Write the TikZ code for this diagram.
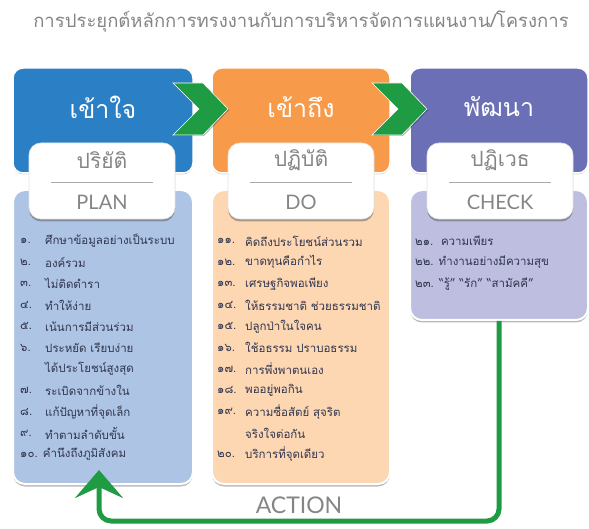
\documentclass[tikz,border=0pt]{standalone}
\usepackage{fontspec}
\setmainfont{Loma}[Script=Thai]
\newfontfamily\latinf{Lato}
\usetikzlibrary{shadows,arrows.meta,calc}
\definecolor{tblue}{HTML}{2B80C5}
\definecolor{torange}{HTML}{F79A4A}
\definecolor{tpurple}{HTML}{6A6FB6}
\definecolor{lblue}{HTML}{AEC4E4}
\definecolor{lorange}{HTML}{FDD6B2}
\definecolor{lpurple}{HTML}{BDBEE0}
\definecolor{tgreen}{HTML}{1E9B43}
\definecolor{tgray}{HTML}{858585}
\definecolor{ltext}{HTML}{30364F}
\begin{document}
\begin{tikzpicture}[x=1pt,y=-1pt,
  topbox/.style={draw=white,line width=1.5pt,rounded corners=10pt,minimum width=180pt,minimum height=105pt,
    drop shadow={shadow xshift=0pt,shadow yshift=-1.5pt,opacity=0.35,fill=gray}},
  lightbox/.style={draw=white,line width=2pt,rounded corners=12pt,minimum width=180pt,
    drop shadow={shadow xshift=0pt,shadow yshift=-2.5pt,opacity=0.45,fill=gray!80!black}},
  lblbox/.style={fill=white,draw=gray!20,line width=0.6pt,rounded corners=12pt,minimum width=146pt,minimum height=76pt,
    drop shadow={shadow xshift=0pt,shadow yshift=-2.5pt,opacity=0.5,fill=gray!70!black}},
  toptitle/.style={text=white,font=\fontsize{25}{28}\selectfont},
  lblth/.style={text=tgray,font=\fontsize{21}{24}\selectfont},
  lblen/.style={text=tgray,font=\latinf\fontsize{20}{24}\selectfont},
  chev/.style={fill=tgreen,draw=white,line width=0.6pt,
    drop shadow={shadow xshift=1pt,shadow yshift=-1pt,opacity=0.3,fill=black}},
  item/.style={anchor=west,inner sep=0pt,text=ltext,font=\fontsize{11.5}{13}\selectfont},
  ret/.style={draw=tgreen,line width=5pt,rounded corners=12pt,
    -{Stealth[length=28pt,width=48pt,inset=11pt]}},
]
\useasboundingbox (0,0) rectangle (589,529);
% title
\node[text=tgray,font=\fontsize{18.5}{21}\selectfont] (title) at (301,22) {การประยุกต์หลักการทรงงานกับการบริหารจัดการแผนงาน/โครงการ};
% top boxes
\node[topbox,fill=tblue,minimum width=180pt] (tb1) at (103,120.5) {};
\node[topbox,fill=torange,minimum width=178pt] (tb2) at (301,120.5) {};
\node[topbox,fill=tpurple,minimum width=178pt] (tb3) at (499,120.5) {};
\node[toptitle] (tt1) at (103,107) {เข้าใจ};
\node[toptitle] (tt2) at (301,107) {เข้าถึง};
\node[toptitle] (tt3) at (499,107) {พัฒนา};
% chevrons
\filldraw[chev] (173,83) -- (203,83) -- (228,109) -- (203,135) -- (173,135) -- (199,109) -- cycle;
\filldraw[chev] (372,83) -- (402,83) -- (427,109) -- (402,135) -- (372,135) -- (398,109) -- cycle;
% light boxes
\node[lightbox,fill=lblue,minimum width=180pt,minimum height=294pt] (lb1) at (103,337) {};
\node[lightbox,fill=lorange,minimum width=178pt,minimum height=294pt] (lb2) at (301,337) {};
\node[lightbox,fill=lpurple,minimum width=178pt,minimum height=130pt] (lb3) at (499,255) {};
% label boxes
\node[lblbox] (lab1) at (102,181) {};
\node[lblbox] (lab2) at (301,181) {};
\node[lblbox] (lab3) at (500,181) {};
\foreach \n/\th/\en in {1/ปริยัติ/PLAN,2/ปฏิบัติ/DO,3/ปฏิเวธ/CHECK}{
  \node[lblth] (th\n) at ($(lab\n.center)+(0,-21)$) {\th};
  \node[lblen] (en\n) at ($(lab\n.center)+(0,21)$) {\en};
  \draw[tgray!70,line width=0.7pt] ($(lab\n.center)+(-51,1)$) -- ($(lab\n.center)+(51,1)$);
}
% return arrow
\coordinate (bend) at (99,521);
\coordinate (tip) at (99,470);
\draw[ret] (lb3.south) |- (bend) -- (tip);
\node[text=tgray,font=\latinf\fontsize{23}{26}\selectfont] (action) at (299,505) {ACTION};
% blue list
\node[item] (b1n) at (20,241) {๑.};   \node[item] (b1) at (45,241) {ศึกษาข้อมูลอย่างเป็นระบบ};
\node[item] (b2n) at (20,262.3) {๒.}; \node[item] (b2) at (45,262.3) {องค์รวม};
\node[item] (b3n) at (20,283.7) {๓.}; \node[item] (b3) at (45,283.7) {ไม่ติดตำรา};
\node[item] (b4n) at (20,305) {๔.};   \node[item] (b4) at (45,305) {ทำให้ง่าย};
\node[item] (b5n) at (20,326.4) {๕.}; \node[item] (b5) at (45,326.4) {เน้นการมีส่วนร่วม};
\node[item] (b6n) at (20,347.7) {๖.}; \node[item] (b6) at (45,347.7) {ประหยัด เรียบง่าย};
\node[item] (b6b) at (45,369) {ได้ประโยชน์สูงสุด};
\node[item] (b7n) at (20,390.4) {๗.}; \node[item] (b7) at (45,390.4) {ระเบิดจากข้างใน};
\node[item] (b8n) at (20,411.7) {๘.}; \node[item] (b8) at (45,411.7) {แก้ปัญหาที่จุดเล็ก};
\node[item] (b9n) at (20,433) {๙.};   \node[item] (b9) at (45,433) {ทำตามลำดับขั้น};
\node[item] (b10) at (20,454.4) {๑๐. คำนึงถึงภูมิสังคม};
% orange list
\node[item] (o11n) at (217,241) {๑๑.};   \node[item] (o11) at (245,241) {คิดถึงประโยชน์ส่วนรวม};
\node[item] (o12n) at (217,262.3) {๑๒.}; \node[item] (o12) at (245,262.3) {ขาดทุนคือกำไร};
\node[item] (o13n) at (217,283.7) {๑๓.}; \node[item] (o13) at (245,283.7) {เศรษฐกิจพอเพียง};
\node[item] (o14n) at (217,305) {๑๔.};   \node[item] (o14) at (245,305) {ให้ธรรมชาติ ช่วยธรรมชาติ};
\node[item] (o15n) at (217,326.4) {๑๕.}; \node[item] (o15) at (245,326.4) {ปลูกป่าในใจคน};
\node[item] (o16n) at (217,347.7) {๑๖.}; \node[item] (o16) at (245,347.7) {ใช้อธรรม ปราบอธรรม};
\node[item] (o17n) at (217,369) {๑๗.};   \node[item] (o17) at (245,369) {การพึ่งพาตนเอง};
\node[item] (o18n) at (217,390.4) {๑๘.}; \node[item] (o18) at (245,390.4) {พออยู่พอกิน};
\node[item] (o19n) at (217,411.7) {๑๙.}; \node[item] (o19) at (245,411.7) {ความซื่อสัตย์ สุจริต};
\node[item] (o19b) at (245,433) {จริงใจต่อกัน};
\node[item] (o20n) at (217,454.4) {๒๐.}; \node[item] (o20) at (245,454.4) {บริการที่จุดเดียว};
% purple list
\node[item] (p21) at (415,241) {๒๑.\ \ ความเพียร};
\node[item] (p22) at (415,262.3) {๒๒. ทำงานอย่างมีความสุข};
\node[item] (p23) at (415,283.7) {๒๓. “รู้” “รัก” “สามัคคี”};
\end{tikzpicture}
\end{document}
